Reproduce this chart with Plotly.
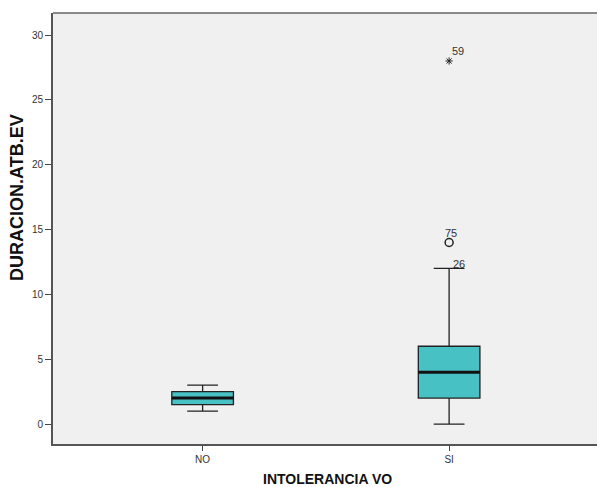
import plotly.graph_objects as go

# Grouping variable and summary statistics of DURACION.ATB.EV
categories = ["NO", "SI"]
positions = [0, 1]
q1 = [1.5, 2]
median = [2, 4]
q3 = [2.5, 6]
lower_whisker = [1, 0]
upper_whisker = [3, 12]

# Individual cases flagged outside the whiskers (group SI)
outlier_values = [14]
outlier_ids = ["75"]
extreme_values = [28]
extreme_ids = ["59"]
# Case id shown at the end of the upper whisker of SI
whisker_case_value = 12
whisker_case_id = "26"

y_ticks = [0, 5, 10, 15, 20, 25, 30]

box_width = 0.25
fill = "rgb(72,193,197)"
font = "Liberation Sans, Arial, sans-serif"

fig = go.Figure()

fig.add_trace(go.Box(
    x=positions, q1=q1, median=median, q3=q3,
    lowerfence=lower_whisker, upperfence=upper_whisker,
    width=box_width, whiskerwidth=0.5,
    fillcolor=fill, line=dict(color="#222222", width=1.3),
    boxpoints=False, showlegend=False, hoverinfo="skip",
))

# Thick median bars
for xp, m in zip(positions, median):
    fig.add_trace(go.Scatter(
        x=[xp - box_width / 2, xp + box_width / 2], y=[m, m],
        mode="lines", line=dict(color="#111111", width=3),
        showlegend=False, hoverinfo="skip",
    ))

si = positions[categories.index("SI")]

fig.add_trace(go.Scatter(
    x=[si] * len(outlier_values), y=outlier_values, mode="markers",
    marker=dict(symbol="circle-open", size=8, color="#222222", line=dict(width=1.5)),
    showlegend=False, hoverinfo="skip",
))
fig.add_trace(go.Scatter(
    x=[si] * len(extreme_values), y=extreme_values, mode="markers",
    marker=dict(symbol="asterisk-open", size=6, color="#222222", line=dict(width=1, color="#222222")),
    showlegend=False, hoverinfo="skip",
))

label_font = dict(family=font, size=11, color="#333333")
for v, t in zip(outlier_values, outlier_ids):
    fig.add_annotation(x=si, y=v, text=t, showarrow=False, xref="x", yref="y",
                       xshift=2, yshift=10, font=label_font)
for v, t in zip(extreme_values, extreme_ids):
    fig.add_annotation(x=si, y=v, text=t, showarrow=False, xref="x", yref="y",
                       xshift=9, yshift=10, font=label_font)
fig.add_annotation(x=si, y=whisker_case_value, text=whisker_case_id, showarrow=False,
                   xref="x", yref="y", xshift=10, yshift=4, font=label_font)

# Axis titles
fig.add_annotation(text="<b>DURACION.ATB.EV</b>", xref="paper", yref="paper",
                   x=-0.066, y=0.571, xanchor="center", yanchor="middle",
                   textangle=-90, showarrow=False,
                   font=dict(family=font, size=18, color="#111111"))
fig.add_annotation(text="<b>INTOLERANCIA VO</b>", xref="paper", yref="paper",
                   x=0.505, y=-0.0812, xanchor="center", yanchor="middle", showarrow=False,
                   font=dict(family=font, size=14, color="#111111"))

fig.update_layout(
    width=597, height=487,
    margin=dict(l=53, r=0, t=13, b=43),
    paper_bgcolor="white", plot_bgcolor="#f0f0f0",
    font=dict(family=font, size=10, color="#333333"),
    xaxis=dict(
        range=[-0.607, 1.6], tickvals=positions, ticktext=categories,
        showgrid=False, zeroline=False, showline=True, linecolor="#555555", linewidth=2,
        ticks="outside", ticklen=5, tickcolor="#444444", tickwidth=1,
        tickfont=dict(size=10, color="#333333"),
    ),
    yaxis=dict(
        range=[-1.54, 31.7], tickvals=y_ticks,
        showgrid=False, zeroline=False, showline=True, linecolor="#555555", linewidth=2,
        ticks="outside", ticklen=6, tickcolor="#444444", tickwidth=1,
        tickfont=dict(size=10, color="#333333"),
    ),
    shapes=[dict(type="line", xref="paper", yref="paper", x0=0, x1=1, y0=1, y1=1,
                 line=dict(color="#888888", width=2))],
)

fig.write_html("out.html")
